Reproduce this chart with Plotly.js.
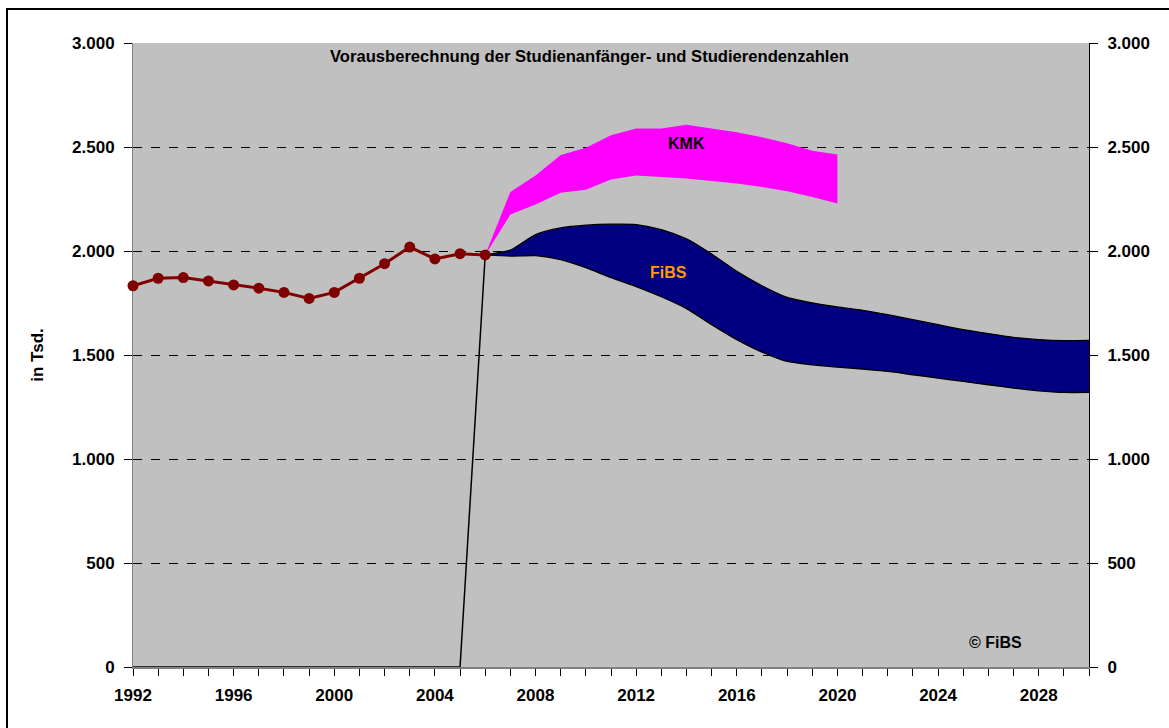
<!DOCTYPE html>
<html>
<head>
<meta charset="utf-8">
<script src="https://cdn.plot.ly/plotly-3.0.1.min.js"></script>
<style>
  html, body { margin: 0; padding: 0; background: #ffffff; }
  #wrap { position: relative; width: 1169px; height: 728px; overflow: hidden; }
  #chart { position: absolute; left: 0; top: 0; width: 1169px; height: 728px; }
  #frame { position: absolute; left: 6px; top: 8px; width: 1200px; height: 800px;
           border-left: 2px solid #000; border-top: 2px solid #000; pointer-events: none; }
</style>
</head>
<body>
<div id="wrap"><div id="chart"></div><div id="frame"></div></div>
<script>
// Historical values (Tsd.)
const histYears = [1992,1993,1994,1995,1996,1997,1998,1999,2000,2001,2002,2003,2004,2005,2006];
const histValues = [1833,1869,1872,1856,1837,1821,1801,1772,1801,1869,1939,2019,1962,1987,1981];

// Base line (zero until 2005, jump to 2006 value)
const baseYears = [1992,1993,1994,1995,1996,1997,1998,1999,2000,2001,2002,2003,2004,2005,2006];
const baseValues = [0,0,0,0,0,0,0,0,0,0,0,0,0,0,1981];

// FiBS projection band
const fibsYears = [2006,2007,2008,2009,2010,2011,2012,2013,2014,2015,2016,2017,2018,2019,2020,2021,2022,2023,2024,2025,2026,2027,2028,2029,2030];
const fibsLower = [1981,1976,1978,1959,1920,1872,1829,1780,1723,1646,1574,1514,1469,1453,1442,1432,1421,1405,1389,1373,1357,1341,1328,1320,1320];
const fibsUpper = [1981,2004,2079,2111,2124,2129,2127,2103,2058,1985,1902,1833,1777,1750,1731,1715,1694,1670,1646,1622,1603,1585,1574,1569,1570];

// KMK projection band
const kmkYears = [2006,2007,2008,2009,2010,2011,2012,2013,2014,2015,2016,2017,2018,2019,2020];
const kmkLower = [1981,2175,2223,2280,2295,2344,2363,2355,2348,2336,2324,2308,2287,2260,2228];
const kmkUpper = [1981,2284,2363,2461,2496,2557,2589,2589,2607,2589,2571,2547,2518,2482,2464];

const tickYears = [1992,1996,2000,2004,2008,2012,2016,2020,2024,2028];
const yTicks = [0,500,1000,1500,2000,2500,3000];
const yTickLabels = ['0','500','1.000','1.500','2.000','2.500','3.000'];

const chartTitle = 'Vorausberechnung der Studienanfänger- und Studierendenzahlen';
const yTitle = 'in Tsd.';

const FONT = '"Liberation Sans", Arial, sans-serif';

const traces = [
  { x: baseYears, y: baseValues, mode: 'lines', line: {color: '#000000', width: 1.5},
    cliponaxis: false, hoverinfo: 'skip', showlegend: false },
  { x: fibsYears, y: fibsLower, mode: 'lines', line: {color: '#000000', width: 1.3, shape: 'spline', smoothing: 0.6},
    hoverinfo: 'skip', showlegend: false },
  { x: fibsYears, y: fibsUpper, mode: 'lines', fill: 'tonexty', fillcolor: '#000080',
    line: {color: '#000000', width: 1.3, shape: 'spline', smoothing: 0.6}, hoverinfo: 'skip', showlegend: false },
  { x: kmkYears, y: kmkLower, mode: 'lines', line: {color: '#FF00FF', width: 0},
    hoverinfo: 'skip', showlegend: false },
  { x: kmkYears, y: kmkUpper, mode: 'lines', fill: 'tonexty', fillcolor: '#FF00FF',
    line: {color: '#FF00FF', width: 0}, hoverinfo: 'skip', showlegend: false },
  { x: histYears, y: histValues, mode: 'lines+markers', cliponaxis: false,
    line: {color: '#800000', width: 3}, marker: {color: '#800000', size: 11},
    hoverinfo: 'skip', showlegend: false },
  { x: [1992], y: [0], yaxis: 'y2', mode: 'lines', hoverinfo: 'skip', showlegend: false }
];

const layout = {
  width: 1169, height: 728,
  margin: {l: 133, r: 80, t: 43, b: 61, pad: 0},
  paper_bgcolor: '#ffffff',
  plot_bgcolor: '#c0c0c0',
  separators: ',.',
  font: {family: FONT, color: '#000000'},
  xaxis: {
    range: [1992, 2030], tickmode: 'array', tickvals: tickYears, ticktext: tickYears.map(String),
    ticks: 'outside', ticklen: 7, tickwidth: 1, tickcolor: '#000000',
    minor: {dtick: 1, tick0: 1992, ticks: 'outside', ticklen: 7, tickwidth: 1, tickcolor: '#000000', showgrid: false},
    showgrid: false, zeroline: false, showline: true, linecolor: '#808080', linewidth: 2,
    layer: 'below traces',
    tickfont: {family: FONT, size: 17, color: '#000000', weight: 'bold'},
    ticklabelstandoff: 5, fixedrange: true
  },
  yaxis: {
    range: [0, 3000], tickmode: 'array', tickvals: yTicks, ticktext: yTickLabels,
    ticks: 'outside', ticklen: 8, tickcolor: '#000000',
    showgrid: true, gridcolor: '#000000', gridwidth: 1, griddash: 'dash',
    zeroline: false, showline: true, linecolor: '#808080', linewidth: 1,
    layer: 'below traces',
    tickfont: {family: FONT, size: 17, color: '#000000', weight: 'bold'},
    ticklabelstandoff: 6,
    title: {text: yTitle, font: {family: FONT, size: 17, color: '#000000', weight: 'bold'}, standoff: 24},
    fixedrange: true
  },
  yaxis2: {
    range: [0, 3000], overlaying: 'y', side: 'right', tickmode: 'array', tickvals: yTicks, ticktext: yTickLabels,
    ticks: 'outside', ticklen: 8, tickcolor: '#000000',
    showgrid: false, zeroline: false, showline: true, linecolor: '#000000', linewidth: 1,
    tickfont: {family: FONT, size: 17, color: '#000000', weight: 'bold'},
    ticklabelstandoff: 6, fixedrange: true
  },
  annotations: [
    { text: chartTitle, xref: 'paper', yref: 'paper', x: 0.477, y: 0.9776, xanchor: 'center', yanchor: 'middle',
      showarrow: false, font: {family: FONT, size: 16.6, color: '#000000', weight: 'bold'} },
    { text: 'KMK', xref: 'x', yref: 'y', x: 2014.0, y: 2515, showarrow: false,
      font: {family: FONT, size: 16, color: '#000000', weight: 'bold'} },
    { text: 'FiBS', xref: 'x', yref: 'y', x: 2013.3, y: 1896, showarrow: false,
      font: {family: FONT, size: 16, color: '#FF9900', weight: 'bold'} },
    { text: '© FiBS', xref: 'x', yref: 'y', x: 2026.3, y: 120, showarrow: false,
      font: {family: FONT, size: 16, color: '#000000', weight: 'bold'} }
  ]
};

Plotly.newPlot('chart', traces, layout, {staticPlot: true, displayModeBar: false});
</script>
</body>
</html>
